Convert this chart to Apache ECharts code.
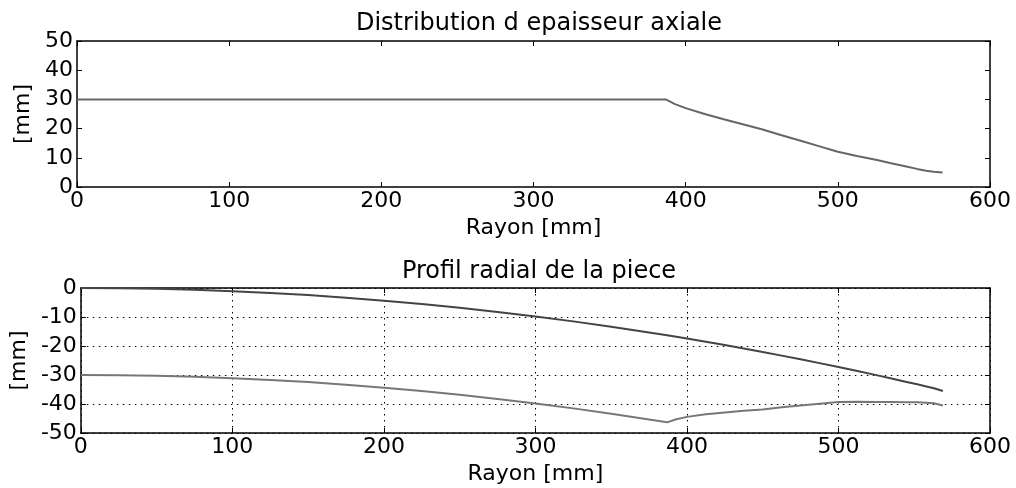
<!DOCTYPE html>
<html>
<head>
<meta charset="utf-8">
<script src="https://cdn.jsdelivr.net/npm/echarts@6/dist/echarts.min.js"></script>
<style>html,body{margin:0;padding:0;background:#fff}#c{width:1016px;height:488px}</style>
</head>
<body>
<div id="c"></div>
<script>
// Thickness distribution (top plot)
const rThick = [0, 100, 200, 300, 386.9, 393, 400, 412.5, 425, 437.5, 450, 462.5, 475, 487.5, 500, 512.5, 525, 535, 545, 552, 558, 563, 568.9];
const thickness = [30, 30, 30, 30, 30, 28.4, 27.0, 25.0, 23.2, 21.5, 19.8, 17.8, 15.9, 14.0, 12.1, 10.6, 9.3, 8.1, 7.0, 6.2, 5.6, 5.2, 5.0];

// Radial profile (bottom plot)
const rProfile = [0, 25, 50, 75, 100, 125, 150, 175, 200, 225, 250, 275, 300, 325, 350, 375, 386.9, 393, 400, 412.5, 425, 437.5, 450, 462.5, 475, 487.5, 500, 512.5, 525, 535, 545, 552, 558, 563, 568.9];
const upperProfile = [0, -0.07, -0.27, -0.61, -1.09, -1.70, -2.45, -3.34, -4.36, -5.52, -6.81, -8.24, -9.81, -11.51, -13.35, -15.33, -16.32, -16.84, -17.44, -18.55, -19.69, -20.86, -22.07, -23.32, -24.59, -25.90, -27.25, -28.63, -30.04, -31.20, -32.38, -33.21, -33.94, -34.55, -35.5];
const lowerProfile = [-30, -30.07, -30.27, -30.61, -31.09, -31.70, -32.45, -33.34, -34.36, -35.52, -36.81, -38.24, -39.81, -41.51, -43.35, -45.33, -46.32, -45.24, -44.44, -43.55, -42.89, -42.36, -41.87, -41.12, -40.49, -39.90, -39.35, -39.23, -39.34, -39.30, -39.38, -39.41, -39.54, -39.75, -40.5];

const xTicks = [0, 100, 200, 300, 400, 500, 600];
const yTicksTop = [0, 10, 20, 30, 40, 50];
const yTicksBottom = [-50, -40, -30, -20, -10, 0];

const titles = ['Distribution d epaisseur axiale', 'Profil radial de la piece'];
const xName = 'Rayon [mm]';
const yName = '[mm]';

const FONT = 'DejaVu Sans';
const pairs = (xs, ys) => xs.map((x, i) => [x, ys[i]]);

const chart = echarts.init(document.getElementById('c'), null, {renderer: 'canvas'});

const axisLine = {show: true, onZero: false, lineStyle: {color: '#000', width: 1.5}};
const tickIn = {show: true, inside: true, length: 5, lineStyle: {color: '#000', width: 1}};
const labelStyle = {color: '#000', fontFamily: FONT, fontSize: 22};
const gridLine = {show: true, lineStyle: {color: '#000', type: [1.5, 4.5], width: 1}};

function xAxes(gi, grid) {
  return [
    {type: 'value', gridIndex: gi, min: xTicks[0], max: xTicks[xTicks.length - 1], interval: 100,
     position: 'bottom', axisLine, axisTick: tickIn,
     axisLabel: Object.assign({margin: 3, showMinLabel: true, showMaxLabel: true}, labelStyle),
     splitLine: grid ? gridLine : {show: false},
     name: xName, nameLocation: 'middle', nameGap: 30,
     nameTextStyle: {color: '#000', fontFamily: FONT, fontSize: 22}},
    {type: 'value', gridIndex: gi, min: xTicks[0], max: xTicks[xTicks.length - 1], interval: 100,
     position: 'top', axisLine, axisTick: tickIn, axisLabel: {show: false}, splitLine: {show: false}}
  ];
}
function yAxes(gi, ticks, grid, gap) {
  return [
    {type: 'value', gridIndex: gi, min: ticks[0], max: ticks[ticks.length - 1], interval: 10,
     position: 'left', axisLine, axisTick: tickIn,
     axisLabel: Object.assign({margin: 4, showMinLabel: true, showMaxLabel: true}, labelStyle),
     splitLine: grid ? gridLine : {show: false},
     name: yName, nameLocation: 'middle', nameGap: gap, nameRotate: 90,
     nameTextStyle: {color: '#000', fontFamily: FONT, fontSize: 22}},
    {type: 'value', gridIndex: gi, min: ticks[0], max: ticks[ticks.length - 1], interval: 10,
     position: 'right', axisLine, axisTick: tickIn, axisLabel: {show: false}, splitLine: {show: false}}
  ];
}

chart.setOption({
  animation: false,
  backgroundColor: '#fff',
  title: [
    {text: titles[0], left: 534, textAlign: 'center', top: 7,
     textStyle: {fontFamily: FONT, fontSize: 24, fontWeight: 'normal', color: '#000'}},
    {text: titles[1], left: 534, textAlign: 'center', top: 255,
     textStyle: {fontFamily: FONT, fontSize: 24, fontWeight: 'normal', color: '#000'}}
  ],
  grid: [
    {left: 77, right: 26, top: 41, height: 146},
    {left: 77, right: 26, top: 288, height: 145}
  ],
  xAxis: [...xAxes(0, false), ...xAxes(1, true)],
  yAxis: [...yAxes(0, yTicksTop, false, 36), ...yAxes(1, yTicksBottom, true, 42)],
  series: [
    {type: 'line', xAxisIndex: 0, yAxisIndex: 0, data: pairs(rThick, thickness), showSymbol: false,
     lineStyle: {color: '#666', width: 2}, z: 3},
    {type: 'line', xAxisIndex: 2, yAxisIndex: 2, data: pairs(rProfile, upperProfile), showSymbol: false,
     lineStyle: {color: '#444', width: 2}, z: 3},
    {type: 'line', xAxisIndex: 2, yAxisIndex: 2, data: pairs(rProfile, lowerProfile), showSymbol: false,
     lineStyle: {color: '#777', width: 2}, z: 3}
  ]
});
</script>
</body>
</html>
